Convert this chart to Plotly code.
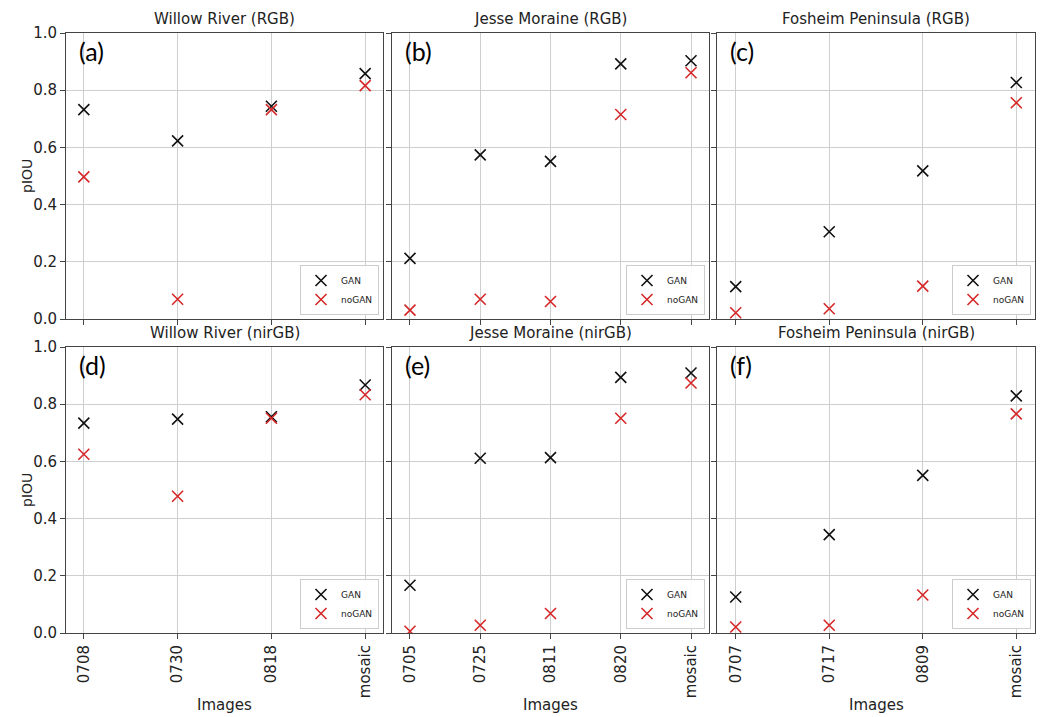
import plotly.graph_objects as go

# ---------------- data ----------------
site_titles = ["Willow River (RGB)", "Jesse Moraine (RGB)", "Fosheim Peninsula (RGB)",
               "Willow River (nirGB)", "Jesse Moraine (nirGB)", "Fosheim Peninsula (nirGB)"]
panel_letters = ["(a)", "(b)", "(c)", "(d)", "(e)", "(f)"]

wr_images = ["0708", "0730", "0818", "mosaic"]
jm_images = ["0705", "0725", "0811", "0820", "mosaic"]
fp_images = ["0707", "0717", "0809", "mosaic"]

wr_rgb_gan = [0.732, 0.623, 0.744, 0.858]
wr_rgb_nogan = [0.497, 0.069, 0.732, 0.816]
jm_rgb_gan = [0.212, 0.574, 0.551, 0.892, 0.903]
jm_rgb_nogan = [0.031, 0.069, 0.061, 0.715, 0.861]
fp_rgb_gan = [0.113, 0.305, 0.518, 0.827]
fp_rgb_nogan = [0.022, 0.036, 0.115, 0.756]

wr_nir_gan = [0.734, 0.748, 0.756, 0.867]
wr_nir_nogan = [0.625, 0.478, 0.751, 0.833]
jm_nir_gan = [0.167, 0.611, 0.613, 0.894, 0.909]
jm_nir_nogan = [0.006, 0.027, 0.068, 0.751, 0.874]
fp_nir_gan = [0.126, 0.344, 0.551, 0.829]
fp_nir_nogan = [0.021, 0.027, 0.133, 0.766]

y_ticks = [0.0, 0.2, 0.4, 0.6, 0.8, 1.0]

panels = [
    (wr_images, wr_rgb_gan, wr_rgb_nogan),
    (jm_images, jm_rgb_gan, jm_rgb_nogan),
    (fp_images, fp_rgb_gan, fp_rgb_nogan),
    (wr_images, wr_nir_gan, wr_nir_nogan),
    (jm_images, jm_nir_gan, jm_nir_nogan),
    (fp_images, fp_nir_gan, fp_nir_nogan),
]

# ---------------- layout geometry (pixels) ----------------
W, H = 1041, 717
col_px = [(66, 383), (392, 709), (717, 1035)]
row_px = [(33, 319), (347, 633)]  # top, bottom in pixels from top
x_ranges = [[-0.19, 3.19], [-0.256, 4.256], [-0.2, 3.2]]

FONT = "DejaVu Sans"
BLACK = "#111111"
RED = "#d62728"
FRAME = "#444444"
GRID = "#cfcfcf"

fig = go.Figure()
layout = dict(
    width=W, height=H,
    margin=dict(l=0, r=0, t=0, b=0, autoexpand=False),
    paper_bgcolor="white", plot_bgcolor="white",
    font=dict(family=FONT, size=15, color="#222"),
    showlegend=True,
)
annotations = []

for i, (cats, gan, nogan) in enumerate(panels):
    r, c = divmod(i, 3)
    n = i + 1
    xa = "x" if n == 1 else f"x{n}"
    ya = "y" if n == 1 else f"y{n}"
    leg = "legend" if n == 1 else f"legend{n}"
    x0, x1 = col_px[c]
    t, b = row_px[r]
    xd = [x0 / W, x1 / W]
    yd = [(H - b) / H, (H - t) / H]

    fig.add_trace(go.Scatter(
        x=cats, y=gan, mode="markers", name="GAN",
        xaxis=xa, yaxis=ya, legend=leg,
        marker=dict(symbol="x-thin", size=11, color=BLACK,
                    line=dict(color=BLACK, width=1.6)),
    ))
    fig.add_trace(go.Scatter(
        x=cats, y=nogan, mode="markers", name="noGAN",
        xaxis=xa, yaxis=ya, legend=leg,
        marker=dict(symbol="x-thin", size=11, color=RED,
                    line=dict(color=RED, width=1.6)),
    ))

    layout[f"xaxis{'' if n == 1 else n}"] = dict(
        domain=xd, anchor=ya, type="category", categoryorder="array",
        categoryarray=cats, range=x_ranges[c], automargin=False,
        showgrid=True, gridcolor=GRID, gridwidth=1,
        showline=True, linecolor=FRAME, linewidth=1, mirror=True,
        ticks="outside", ticklen=5, tickcolor=FRAME,
        showticklabels=(r == 1), tickangle=-90,
        tickfont=dict(family=FONT, size=15, color="#222"),
        zeroline=False, fixedrange=True,
    )
    layout[f"yaxis{'' if n == 1 else n}"] = dict(
        domain=yd, anchor=xa, range=[0, 1], automargin=False,
        tickvals=y_ticks, ticktext=[f"{v:.1f}" for v in y_ticks],
        showgrid=True, gridcolor=GRID, gridwidth=1,
        showline=True, linecolor=FRAME, linewidth=1, mirror=True,
        ticks="outside", ticklen=5, tickcolor=FRAME,
        showticklabels=(c == 0),
        tickfont=dict(family=FONT, size=15, color="#222"),
        zeroline=False, fixedrange=True,
    )
    layout[leg] = dict(
        x=(x1 - 4) / W, y=(H - b + 4) / H, xanchor="right", yanchor="bottom",
        xref="paper", yref="paper",
        bgcolor="rgba(255,255,255,0.9)", bordercolor="#cccccc", borderwidth=1,
        font=dict(family=FONT, size=9, color="#222"),
        itemwidth=30, tracegroupgap=0,
    )
    # subplot title
    annotations.append(dict(
        text=site_titles[i], x=(x0 + x1) / 2 / W, y=(H - t + 3) / H,
        xref="paper", yref="paper", xanchor="center", yanchor="bottom",
        showarrow=False, font=dict(family=FONT, size=15, color="#222"),
    ))
    # panel letter
    annotations.append(dict(
        text=panel_letters[i], x=(x0 + 11) / W, y=(H - t - 1) / H,
        xref="paper", yref="paper", xanchor="left", yanchor="top",
        showarrow=False, font=dict(family="Lato", size=25, color="#000"),
    ))
    # axis titles
    if c == 0:
        annotations.append(dict(
            text="pIOU", x=27 / W, y=(H - (t + b) / 2) / H,
            xref="paper", yref="paper", xanchor="center", yanchor="middle",
            textangle=-90, showarrow=False,
            font=dict(family=FONT, size=14, color="#222"),
        ))
    if r == 1:
        annotations.append(dict(
            text="Images", x=(x0 + x1) / 2 / W, y=(H - 705) / H,
            xref="paper", yref="paper", xanchor="center", yanchor="middle",
            showarrow=False, font=dict(family=FONT, size=15, color="#222"),
        ))

layout["annotations"] = annotations
fig.update_layout(**layout)
fig.write_html("out.html")
